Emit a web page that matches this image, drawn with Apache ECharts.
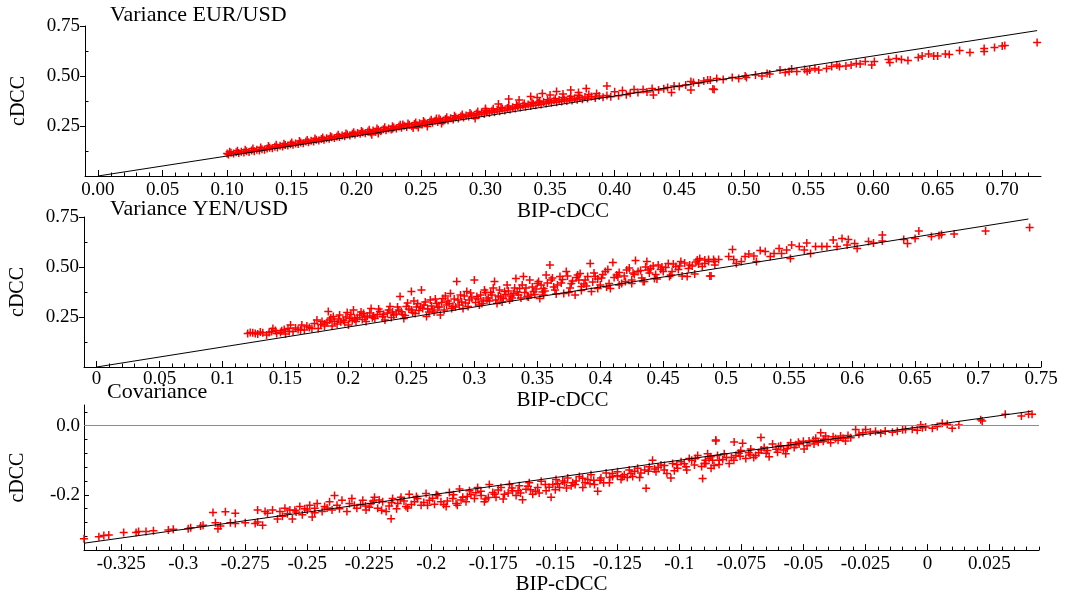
<!DOCTYPE html>
<html>
<head>
<meta charset="utf-8">
<script src="https://cdn.jsdelivr.net/npm/echarts@6/dist/echarts.min.js"></script>
<style>
html,body{margin:0;padding:0;background:#fff;}
#chart{width:1065px;height:596px;}
</style>
</head>
<body>
<div id="chart"></div>
<script>
// ---------- Panel titles / axis names ----------
const panelTitles = ['Variance EUR/USD', 'Variance YEN/USD', 'Covariance'];
const xName = 'BIP-cDCC';
const yName = 'cDCC';

// ---------- Tick values and labels ----------
const eurXTicks = [0, 0.05, 0.10, 0.15, 0.20, 0.25, 0.30, 0.35, 0.40, 0.45, 0.50, 0.55, 0.60, 0.65, 0.70];
const eurXLabels = ['0.00','0.05','0.10','0.15','0.20','0.25','0.30','0.35','0.40','0.45','0.50','0.55','0.60','0.65','0.70'];
const eurYTicks = [0.25, 0.50, 0.75];
const eurYLabels = ['0.25', '0.50', '0.75'];

const yenXTicks = [0, 0.05, 0.10, 0.15, 0.20, 0.25, 0.30, 0.35, 0.40, 0.45, 0.50, 0.55, 0.60, 0.65, 0.70, 0.75];
const yenXLabels = ['0','0.05','0.1','0.15','0.2','0.25','0.3','0.35','0.4','0.45','0.5','0.55','0.6','0.65','0.7','0.75'];
const yenYTicks = [0.25, 0.50, 0.75];
const yenYLabels = ['0.25', '0.50', '0.75'];

const covXTicks = [-0.325, -0.3, -0.275, -0.25, -0.225, -0.2, -0.175, -0.15, -0.125, -0.1, -0.075, -0.05, -0.025, 0, 0.025];
const covXLabels = ['-0.325','-0.3','-0.275','-0.25','-0.225','-0.2','-0.175','-0.15','-0.125','-0.1','-0.075','-0.05','-0.025','0','0.025'];
const covYTicks = [-0.2, 0];
const covYLabels = ['-0.2', '0.0'];

// ---------- 45-degree reference lines ----------
const eurDiag = [[0, 0], [0.727, 0.727]];
const yenDiag = [[0, 0], [0.740, 0.740]];
const covDiag = [[-0.340, -0.340], [0.042, 0.042]];
const covZero = 0;

// ---------- Scatter data [BIP-cDCC, cDCC] ----------
const eurPoints = [
[0.100,0.112],[0.101,0.108],[0.103,0.116],[0.105,0.113],[0.107,0.119],[0.109,0.115],[0.111,0.121],[0.113,0.117],[0.115,0.124],[0.117,0.120],
[0.119,0.127],[0.121,0.124],[0.123,0.131],[0.125,0.127],[0.127,0.134],[0.129,0.131],[0.131,0.137],[0.133,0.141],[0.135,0.139],[0.137,0.146],
[0.139,0.143],[0.141,0.151],[0.143,0.148],[0.145,0.155],[0.147,0.152],[0.149,0.159],[0.151,0.156],[0.153,0.163],[0.155,0.160],[0.157,0.168],
[0.159,0.164],[0.161,0.172],[0.163,0.169],[0.165,0.176],[0.167,0.172],[0.169,0.181],[0.171,0.177],[0.173,0.185],[0.175,0.181],[0.177,0.189],
[0.179,0.186],[0.181,0.194],[0.183,0.190],[0.185,0.198],[0.187,0.195],[0.189,0.203],[0.191,0.199],[0.193,0.207],[0.195,0.203],[0.197,0.211],
[0.199,0.207],[0.201,0.215],[0.203,0.211],[0.205,0.219],[0.207,0.214],[0.209,0.223],[0.211,0.218],[0.213,0.227],[0.215,0.221],[0.217,0.231],
[0.219,0.225],[0.221,0.234],[0.223,0.229],[0.225,0.238],[0.227,0.233],[0.229,0.243],[0.231,0.237],[0.233,0.247],[0.235,0.241],[0.237,0.251],
[0.239,0.245],[0.241,0.256],[0.243,0.249],[0.245,0.260],[0.247,0.254],[0.249,0.264],[0.251,0.258],[0.253,0.268],[0.255,0.262],[0.257,0.272],
[0.259,0.266],[0.261,0.276],[0.263,0.270],[0.265,0.281],[0.267,0.274],[0.269,0.285],[0.271,0.279],
[0.228,0.249],[0.236,0.258],[0.262,0.287],[0.255,0.248],[0.244,0.240],[0.217,0.212],
[0.102,0.121],[0.108,0.126],[0.114,0.131],[0.120,0.138],[0.126,0.143],[0.132,0.150],[0.138,0.156],[0.144,0.161],[0.150,0.168],[0.156,0.175],
[0.162,0.180],[0.168,0.187],[0.174,0.193],[0.180,0.199],[0.186,0.206],[0.192,0.212],[0.198,0.219],[0.204,0.225],[0.210,0.231],[0.216,0.238],
[0.222,0.244],[0.228,0.236],[0.234,0.256],[0.240,0.262],[0.246,0.268],[0.252,0.275],[0.258,0.281],[0.264,0.288],[0.270,0.294],[0.276,0.301],
[0.282,0.308],[0.288,0.315],[0.294,0.322],[0.300,0.329],[0.306,0.336],[0.312,0.343],[0.318,0.350],[0.324,0.356],[0.330,0.362],[0.336,0.369],
[0.342,0.375],[0.348,0.381],[0.354,0.388],[0.360,0.393],[0.366,0.399],[0.372,0.404],[0.380,0.408],[0.386,0.412],
[0.212,0.206],[0.248,0.243],[0.266,0.262],[0.292,0.288],
[0.273,0.289],[0.275,0.283],[0.277,0.294],[0.279,0.287],[0.281,0.299],[0.283,0.292],[0.285,0.303],[0.287,0.297],[0.289,0.308],[0.291,0.301],
[0.293,0.312],[0.295,0.306],[0.297,0.317],[0.299,0.310],[0.301,0.321],[0.303,0.315],[0.305,0.326],[0.307,0.319],[0.309,0.331],[0.311,0.324],
[0.313,0.336],[0.315,0.328],[0.317,0.340],[0.319,0.333],[0.321,0.344],[0.323,0.337],[0.325,0.349],[0.327,0.342],[0.329,0.353],[0.331,0.346],
[0.333,0.357],[0.335,0.350],[0.337,0.361],[0.339,0.354],[0.341,0.366],[0.343,0.358],[0.345,0.370],[0.347,0.362],[0.349,0.373],[0.351,0.366],
[0.353,0.377],[0.355,0.369],[0.357,0.380],[0.359,0.372],[0.361,0.383],[0.363,0.375],[0.365,0.386],[0.367,0.378],[0.369,0.389],[0.371,0.381],
[0.373,0.392],[0.375,0.384],[0.377,0.395],[0.379,0.387],[0.382,0.397],[0.385,0.390],[0.388,0.400],[0.391,0.394],
[0.318,0.385],[0.326,0.380],[0.335,0.397],[0.340,0.392],[0.344,0.413],[0.350,0.405],[0.355,0.422],[0.360,0.410],[0.366,0.430],[0.372,0.418],
[0.378,0.438],[0.394,0.450],[0.310,0.360],[0.300,0.338],
[0.394,0.402],[0.397,0.396],[0.400,0.421],[0.403,0.401],[0.406,0.427],[0.409,0.406],[0.412,0.414],[0.415,0.433],[0.418,0.418],[0.422,0.433],
[0.425,0.420],[0.429,0.438],[0.430,0.405],[0.434,0.430],[0.438,0.436],[0.441,0.443],[0.444,0.417],[0.446,0.450],[0.450,0.448],[0.455,0.455],
[0.459,0.472],[0.459,0.430],[0.461,0.467],[0.465,0.465],[0.469,0.475],[0.472,0.480],[0.474,0.480],[0.476,0.435],[0.477,0.433],[0.479,0.488],
[0.484,0.483],[0.491,0.493],[0.496,0.488],[0.501,0.500],[0.502,0.493],[0.509,0.505],[0.514,0.500],[0.518,0.513],[0.520,0.510],[0.528,0.530],
[0.532,0.517],[0.535,0.522],[0.537,0.535],[0.541,0.522],[0.547,0.533],[0.549,0.522],[0.551,0.530],[0.555,0.538],[0.558,0.530],[0.564,0.538],
[0.568,0.547],[0.572,0.555],[0.574,0.547],[0.579,0.550],[0.583,0.555],[0.587,0.563],[0.590,0.560],[0.594,0.572],[0.599,0.555],[0.601,0.572],
[0.612,0.583],[0.613,0.567],[0.618,0.588],[0.622,0.583],[0.627,0.577],[0.635,0.593],[0.638,0.600],[0.643,0.610],[0.647,0.600],[0.650,0.600],
[0.656,0.610],[0.659,0.608],[0.667,0.627],[0.675,0.617],[0.686,0.638],[0.686,0.622],[0.694,0.643],[0.700,0.650],[0.702,0.652],[0.727,0.667]
];

const yenPoints = [
[0.120,0.168],[0.124,0.171],[0.128,0.165],[0.132,0.171],[0.135,0.160],[0.139,0.177],[0.140,0.193],[0.143,0.168],[0.147,0.181],[0.150,0.165],
[0.152,0.193],[0.154,0.210],[0.156,0.177],[0.160,0.188],[0.163,0.210],[0.165,0.185],[0.169,0.198],[0.173,0.218],[0.175,0.235],[0.176,0.193],
[0.179,0.227],[0.181,0.205],[0.184,0.277],[0.185,0.235],[0.188,0.252],[0.189,0.227],[0.191,0.215],[0.193,0.260],[0.196,0.232],[0.199,0.272],
[0.200,0.210],[0.201,0.243],[0.204,0.285],[0.206,0.227],[0.209,0.260],
[0.122,0.173],[0.126,0.167],[0.130,0.175],[0.137,0.172],[0.142,0.182],[0.146,0.172],[0.149,0.188],[0.153,0.178],[0.158,0.195],[0.162,0.185],
[0.167,0.205],[0.171,0.192],[0.178,0.212],[0.183,0.222],[0.187,0.205],[0.192,0.240],[0.197,0.222],
[0.181,0.215],[0.186,0.245],[0.194,0.225],[0.198,0.250],[0.202,0.262],[0.205,0.240],[0.210,0.275],[0.213,0.250],[0.217,0.270],[0.220,0.255],
[0.224,0.290],[0.228,0.262],[0.232,0.285],[0.235,0.275],[0.239,0.300],[0.243,0.262],[0.247,0.320],[0.250,0.285],[0.252,0.330],[0.257,0.300],
[0.261,0.325],[0.264,0.275],[0.269,0.340],[0.272,0.300],[0.277,0.355],[0.280,0.318],[0.285,0.300],[0.289,0.360],[0.293,0.320],[0.297,0.370],
[0.303,0.340],[0.306,0.318],[0.309,0.372],[0.312,0.330],[0.315,0.395],[0.321,0.350],[0.324,0.378],[0.329,0.355],[0.334,0.375],[0.337,0.345],
[0.341,0.395],[0.345,0.360],[0.349,0.390],[0.353,0.410],[0.356,0.380],[0.363,0.400],[0.369,0.420],[0.376,0.395],[0.383,0.435],[0.389,0.405],
[0.394,0.425],[0.401,0.445],[0.407,0.418],[0.414,0.450],[0.420,0.428],[0.426,0.470],[0.433,0.445],[0.438,0.485],[0.444,0.462],[0.449,0.500],
[0.457,0.478],[0.463,0.505],[0.470,0.492],[0.478,0.515],
[0.212,0.268],[0.214,0.227],[0.218,0.293],[0.221,0.243],[0.225,0.277],[0.229,0.235],[0.233,0.302],[0.236,0.260],
[0.240,0.285],[0.241,0.352],[0.244,0.243],[0.246,0.302],[0.250,0.377],[0.253,0.268],[0.255,0.318],[0.258,0.385],[0.259,0.293],[0.262,0.252],
[0.265,0.335],[0.267,0.285],[0.270,0.318],[0.273,0.260],[0.275,0.343],
[0.203,0.232],[0.207,0.248],[0.211,0.238],[0.215,0.255],[0.219,0.246],[0.223,0.262],[0.227,0.251],[0.231,0.270],[0.234,0.247],[0.238,0.265],
[0.242,0.276],[0.245,0.258],[0.248,0.290],[0.251,0.272],[0.254,0.300],[0.256,0.282],[0.260,0.310],[0.263,0.290],[0.266,0.305],[0.268,0.275],
[0.271,0.298],[0.274,0.322],[0.276,0.285],[0.279,0.330],[0.282,0.292],[0.284,0.340],[0.288,0.310],[0.290,0.325],[0.292,0.355],[0.295,0.302],
[0.298,0.345],[0.301,0.322],[0.305,0.360],[0.307,0.330],[0.311,0.345],[0.313,0.372],[0.317,0.335],[0.319,0.355],[0.322,0.325],[0.325,0.362],
[0.327,0.380],[0.330,0.345],[0.332,0.395],[0.335,0.360],[0.338,0.410],[0.340,0.372],[0.343,0.350],[0.346,0.400],[0.348,0.362],[0.351,0.428],
[0.354,0.375],
[0.278,0.310],[0.281,0.368],[0.283,0.302],[0.286,0.427],[0.287,0.335],[0.291,0.293],[0.294,0.377],[0.296,0.335],[0.300,0.435],[0.302,0.352],
[0.304,0.310],[0.308,0.385],[0.310,0.335],[0.314,0.360],[0.316,0.427],[0.318,0.318],[0.320,0.385],[0.323,0.343],[0.326,0.410],[0.328,0.335],
[0.331,0.368],[0.333,0.443],[0.336,0.393],[0.339,0.452],[0.342,0.352],[0.344,0.435],[0.347,0.377],[0.350,0.418],[0.352,0.343],[0.355,0.393],
[0.357,0.460],[0.360,0.510],[0.361,0.435],[0.364,0.385],[0.368,0.452],[0.371,0.368],[0.373,0.477],[0.377,0.418],[0.380,0.360],[0.382,0.460],
[0.385,0.402],[0.388,0.435],[0.392,0.518],[0.393,0.377],
[0.358,0.420],[0.362,0.445],[0.366,0.410],[0.370,0.438],[0.374,0.455],[0.378,0.430],[0.381,0.448],[0.384,0.468],[0.387,0.415],[0.390,0.452],
[0.395,0.470],[0.398,0.440],[0.402,0.462],[0.406,0.488],[0.411,0.448],[0.415,0.472],[0.419,0.455],[0.423,0.495],[0.427,0.462],[0.432,0.482],
[0.436,0.500],[0.439,0.470],[0.442,0.505],[0.448,0.488],[0.452,0.497],[0.458,0.515],[0.462,0.488],[0.467,0.520],[0.473,0.505],[0.476,0.525],
[0.396,0.452],[0.400,0.410],[0.404,0.477],[0.408,0.393],[0.410,0.522],[0.413,0.460],[0.417,0.418],[0.421,0.485],[0.425,0.435],[0.428,0.533],
[0.430,0.477],[0.434,0.427],[0.437,0.528],[0.440,0.493],[0.443,0.443],[0.446,0.510],
[0.450,0.477],[0.454,0.518],[0.456,0.460],[0.460,0.502],[0.464,0.527],[0.469,0.452],[0.471,0.510],[0.477,0.535],[0.479,0.543],[0.483,0.518],
[0.486,0.538],[0.487,0.455],[0.491,0.527],[0.494,0.538],
[0.355,0.360],[0.365,0.365],[0.375,0.372],[0.385,0.382],[0.398,0.392],[0.405,0.400],[0.415,0.410],[0.425,0.418],[0.435,0.428],[0.445,0.440],
[0.455,0.452],[0.465,0.455],[0.475,0.465],
[0.481,0.502],[0.483,0.535],[0.486,0.527],[0.488,0.455],[0.490,0.538],[0.491,0.510],
[0.502,0.552],[0.505,0.588],[0.506,0.538],[0.508,0.518],[0.512,0.527],
[0.515,0.552],[0.518,0.565],[0.522,0.555],[0.524,0.527],[0.527,0.582],[0.531,0.577],[0.535,0.552],[0.538,0.568],[0.542,0.593],[0.544,0.568],
[0.548,0.585],[0.551,0.543],[0.552,0.610],
[0.558,0.602],[0.562,0.585],[0.564,0.620],[0.567,0.568],[0.571,0.602],[0.576,0.602],[0.580,0.603],[0.585,0.635],[0.588,0.603],[0.592,0.643],
[0.596,0.610],[0.597,0.638],
[0.602,0.618],[0.604,0.593],[0.613,0.627],[0.617,0.620],[0.624,0.660],[0.624,0.630],
[0.641,0.638],[0.644,0.618],[0.650,0.642],[0.653,0.680],
[0.663,0.653],[0.669,0.658],[0.671,0.662],[0.681,0.665],[0.706,0.680],[0.741,0.697]
];

const covPoints = [
[-0.340,-0.327],[-0.334,-0.321],[-0.332,-0.318],[-0.330,-0.316],[-0.324,-0.309],[-0.319,-0.309],[-0.318,-0.306],[-0.315,-0.306],[-0.312,-0.304],
[-0.306,-0.302],[-0.304,-0.300],[-0.298,-0.298],[-0.297,-0.295],[-0.293,-0.290],[-0.292,-0.288],[-0.288,-0.251],[-0.287,-0.281],[-0.286,-0.298],
[-0.285,-0.290],[-0.283,-0.249],[-0.281,-0.281],[-0.279,-0.253],[-0.279,-0.283],[-0.275,-0.281],[-0.271,-0.283],[-0.270,-0.244],[-0.270,-0.279],
[-0.268,-0.288],[-0.267,-0.248],[-0.266,-0.253],[-0.264,-0.244],[-0.262,-0.270],[-0.261,-0.248],[-0.260,-0.262],[-0.259,-0.239],[-0.257,-0.244],
[-0.256,-0.270],[-0.255,-0.245],[-0.253,-0.234],[-0.252,-0.258],[-0.250,-0.244],[-0.249,-0.230],[-0.248,-0.264],[-0.247,-0.239],[-0.246,-0.225],
[-0.244,-0.248],[-0.243,-0.234],[-0.241,-0.220],[-0.240,-0.244],[-0.239,-0.202],[-0.238,-0.230],[-0.236,-0.216],[-0.234,-0.248],[-0.233,-0.225],
[-0.232,-0.211],[-0.230,-0.239],
[-0.2580,-0.255],[-0.2545,-0.250],[-0.2510,-0.240],[-0.2470,-0.252],[-0.2420,-0.238],[-0.2370,-0.240],[-0.2310,-0.230],
[-0.2276,-0.216],[-0.2263,-0.244],[-0.2243,-0.225],[-0.2229,-0.207],[-0.2216,-0.239],[-0.2196,-0.220],[-0.2182,-0.248],[-0.2162,-0.269],[-0.2156,-0.211],
[-0.2135,-0.225],[-0.2122,-0.207],[-0.2102,-0.234],[-0.2089,-0.198],[-0.2068,-0.220],[-0.2055,-0.211],[-0.2041,-0.230],[-0.2021,-0.196],[-0.2007,-0.216],
[-0.1987,-0.227],[-0.1974,-0.202],[-0.1961,-0.220],[-0.1940,-0.234],[-0.1927,-0.193],[-0.1913,-0.211],[-0.1900,-0.225],[-0.1886,-0.183],
[-0.1873,-0.207],[-0.1860,-0.220],[-0.1846,-0.188],[-0.1826,-0.211],[-0.1813,-0.179],[-0.1799,-0.202],[-0.1786,-0.220],[-0.1766,-0.170],[-0.1752,-0.193],
[-0.1739,-0.207],[-0.1719,-0.179],[-0.1705,-0.198],[-0.1685,-0.170],[-0.1672,-0.188],[-0.1658,-0.202],[-0.1645,-0.174],[-0.1632,-0.214],[-0.1618,-0.184],
[-0.1605,-0.165],[-0.1591,-0.198],[-0.1571,-0.179],[-0.1557,-0.161],
[-0.1537,-0.188],[-0.1517,-0.207],[-0.1510,-0.170],[-0.1497,-0.156],[-0.1483,-0.179],[-0.1463,-0.165],[-0.1450,-0.151],[-0.1436,-0.174],[-0.1416,-0.160],
[-0.1403,-0.147],[-0.1389,-0.179],[-0.1369,-0.156],[-0.1356,-0.142],[-0.1342,-0.170],[-0.1329,-0.190],[-0.1316,-0.151],[-0.1295,-0.137],[-0.1282,-0.165],
[-0.1269,-0.147],[-0.1249,-0.133],[-0.1235,-0.156],[-0.1222,-0.142],
[-0.1202,-0.128],[-0.1188,-0.147],[-0.1168,-0.123],[-0.1155,-0.137],[-0.1134,-0.181],[-0.1121,-0.119],[-0.1108,-0.100],[-0.1094,-0.133],[-0.1074,-0.114],
[-0.1061,-0.128],[-0.1034,-0.151],[-0.1027,-0.109],
[-0.2285,-0.228],[-0.2250,-0.236],[-0.2210,-0.215],[-0.2170,-0.232],[-0.2140,-0.240],[-0.2110,-0.218],[-0.2080,-0.228],[-0.2030,-0.222],[-0.1995,-0.210],
[-0.1950,-0.228],[-0.1910,-0.200],[-0.1880,-0.215],[-0.1840,-0.200],[-0.1800,-0.190],[-0.1770,-0.208],[-0.1730,-0.186],[-0.1690,-0.195],[-0.1650,-0.188],
[-0.1610,-0.175],[-0.1580,-0.190],[-0.1540,-0.170],[-0.1500,-0.185],[-0.1470,-0.160],[-0.1430,-0.165],[-0.1390,-0.152],[-0.1360,-0.168],[-0.1320,-0.158],
[-0.1280,-0.150],[-0.1250,-0.145],[-0.1210,-0.150],[-0.1180,-0.132],[-0.1140,-0.128],[-0.1100,-0.125],[-0.1060,-0.115],[-0.1020,-0.130],[-0.0980,-0.110],
[-0.0950,-0.100],[-0.0910,-0.118],[-0.0880,-0.095],[-0.0840,-0.112],[-0.0810,-0.092],[-0.0780,-0.100],[-0.0760,-0.080],[-0.0720,-0.078],[-0.0700,-0.092],
[-0.0670,-0.070],[-0.0650,-0.080],[-0.0610,-0.068],[-0.0580,-0.070],[-0.0560,-0.058],[-0.0530,-0.055],[-0.0500,-0.045],[-0.0460,-0.042],[-0.0440,-0.048],
[-0.0400,-0.040],[-0.0360,-0.042],[-0.0320,-0.028],[-0.0260,-0.020],[-0.0230,-0.018],[-0.0170,-0.015],[-0.0100,-0.012],[-0.0020,-0.006],[0.0040,-0.002],
[0.0080,0.004],
[-0.2265,-0.232],[-0.2235,-0.218],[-0.2200,-0.245],[-0.2160,-0.222],[-0.2125,-0.214],[-0.2095,-0.238],[-0.2060,-0.205],[-0.2015,-0.230],[-0.1980,-0.200],
[-0.1935,-0.218],[-0.1895,-0.230],[-0.1855,-0.205],[-0.1820,-0.194],[-0.1780,-0.212],[-0.1745,-0.198],[-0.1710,-0.212],[-0.1675,-0.180],[-0.1640,-0.195],
[-0.1600,-0.185],[-0.1565,-0.195],[-0.1525,-0.178],[-0.1490,-0.168],[-0.1455,-0.180],[-0.1420,-0.170],[-0.1380,-0.165],[-0.1345,-0.158],[-0.1305,-0.165],
[-0.1270,-0.138],[-0.1230,-0.148],[-0.1195,-0.138],[-0.1160,-0.150],[-0.1125,-0.132],[-0.1085,-0.120],[-0.1050,-0.138],[-0.1010,-0.112],[-0.0970,-0.128],
[-0.0935,-0.095],[-0.0895,-0.100],[-0.0860,-0.115],[-0.0825,-0.098],[-0.0790,-0.092],[-0.0755,-0.088],[-0.0715,-0.085],[-0.0680,-0.078],[-0.0645,-0.072],
[-0.0600,-0.060],[-0.0565,-0.066],[-0.0520,-0.048],[-0.0485,-0.058],[-0.0450,-0.036],[-0.0420,-0.045],[-0.0380,-0.032],[-0.0340,-0.036],
[-0.1007,-0.123],[-0.0993,-0.104],[-0.0973,-0.119],[-0.0960,-0.095],[-0.0939,-0.114],[-0.0926,-0.086],[-0.0906,-0.153],[-0.0899,-0.109],[-0.0886,-0.081],
[-0.0872,-0.123],[-0.0866,-0.100],[-0.0853,-0.041],[-0.0846,-0.086],
[-0.0893,-0.109],[-0.0873,-0.090],[-0.0853,-0.044],[-0.0839,-0.100],[-0.0819,-0.081],[-0.0799,-0.109],[-0.0779,-0.047],[-0.0772,-0.086],[-0.0752,-0.072],
[-0.0745,-0.051],[-0.0732,-0.095],[-0.0712,-0.067],[-0.0692,-0.086],[-0.0671,-0.034],[-0.0658,-0.063],[-0.0638,-0.090],[-0.0624,-0.053],[-0.0604,-0.077],
[-0.0591,-0.058],[-0.0571,-0.081],[-0.0551,-0.049],[-0.0537,-0.063],[-0.0517,-0.053],[-0.0497,-0.067],[-0.0477,-0.044],[-0.0457,-0.053],[-0.0430,-0.020],
[-0.0417,-0.039],[-0.0410,-0.030],[-0.0390,-0.049],[-0.0370,-0.037],[-0.0350,-0.030],[-0.0330,-0.044],[-0.0309,-0.035],[-0.0289,-0.011],[-0.0276,-0.025],
[-0.0249,-0.011],[-0.0209,-0.016],[-0.0188,-0.022],[-0.0141,-0.019],[-0.0121,-0.016],[-0.0088,-0.011],[-0.0061,-0.010],[-0.0041,-0.013],[-0.0027,0.002],
[-0.0007,-0.004],[0.0020,-0.007],[0.0060,0.007],[0.0100,-0.007],[0.0127,0.002],[0.0215,0.017],[0.0221,0.014],[0.0314,0.033],[0.0379,0.028],
[0.0408,0.033],[0.0422,0.033]
];

// ---------- rendering ----------
const FONT = '"Liberation Serif", "Times New Roman", serif';
const PLUS = 'path://M3.25,0H4.75V3.25H8V4.75H4.75V8H3.25V4.75H0V3.25H3.25Z';

function steps(a, b, s) {
  const out = [];
  const n = Math.round((b - a) / s);
  for (let i = 0; i <= n; i++) out.push(+(a + i * s).toFixed(6));
  return out;
}
function fmt(ticks, labels) {
  return function (v) {
    for (let i = 0; i < ticks.length; i++) if (Math.abs(ticks[i] - v) < 1e-9) return labels[i];
    return '';
  };
}
const grids = [
  {left: 85, top: 26, width: 956, height: 150},
  {left: 84, top: 217, width: 957, height: 150},
  {left: 83, top: 405, width: 956, height: 149}
];
const panels = [
  {xMin: -0.01, xMax: 0.73, yMin: 0, yMax: 0.75, xT: eurXTicks, xL: eurXLabels, yT: eurYTicks, yL: eurYLabels,
   xMinor: steps(0.01, 0.72, 0.01), yMinor: [0.125, 0.375, 0.625], xGap: 21, xMargin: 5, yTickOut: true},
  {xMin: -0.01, xMax: 0.75, yMin: 0, yMax: 0.75, xT: yenXTicks, xL: yenXLabels, yT: yenYTicks, yL: yenYLabels,
   xMinor: steps(0.01, 0.74, 0.01), yMinor: [0.125, 0.375, 0.625], xGap: 21, xMargin: 3, yTickOut: true},
  {xMin: -0.34, xMax: 0.045, yMin: -0.36, yMax: 0.06, xT: covXTicks, xL: covXLabels, yT: covYTicks, yL: covYLabels,
   xMinor: steps(-0.335, 0.045, 0.005), yMinor: steps(-0.36, 0.04, 0.04), xGap: 18, xMargin: 4, yTickOut: false}
];

const xAxes = [], yAxes = [];
panels.forEach(function (p, g) {
  xAxes.push({
    type: 'value', gridIndex: g, min: p.xMin, max: p.xMax, position: 'bottom',
    axisLine: {show: true, onZero: false, lineStyle: {color: '#000', width: 1}},
    axisTick: {show: true, inside: true, length: 6, customValues: p.xT, lineStyle: {color: '#000'}},
    axisLabel: {show: true, customValues: p.xT, formatter: fmt(p.xT, p.xL), margin: p.xMargin,
      fontFamily: FONT, fontSize: 19, color: '#000'},
    splitLine: {show: false},
    name: xName, nameLocation: 'middle', nameGap: p.xGap,
    nameTextStyle: {fontFamily: FONT, fontSize: 21, color: '#000'}
  });
  xAxes.push({
    type: 'value', gridIndex: g, min: p.xMin, max: p.xMax, position: 'bottom',
    axisLine: {show: false, onZero: false},
    axisTick: {show: true, inside: true, length: 3.5, customValues: p.xMinor, lineStyle: {color: '#000'}},
    axisLabel: {show: false}, splitLine: {show: false}
  });
  yAxes.push({
    type: 'value', gridIndex: g, min: p.yMin, max: p.yMax, position: 'left',
    axisLine: {show: true, onZero: false, lineStyle: {color: '#000', width: 1}},
    axisTick: {show: true, inside: !p.yTickOut, length: 5, customValues: p.yT, lineStyle: {color: '#000'}},
    axisLabel: {show: true, customValues: p.yT, formatter: fmt(p.yT, p.yL), margin: p.yTickOut ? 5 : 4,
      fontFamily: FONT, fontSize: 19, color: '#000'},
    splitLine: {show: false},
    name: yName, nameLocation: 'middle', nameGap: 56,
    nameTextStyle: {fontFamily: FONT, fontSize: 20, color: '#000'}
  });
  yAxes.push({
    type: 'value', gridIndex: g, min: p.yMin, max: p.yMax, position: 'left',
    axisLine: {show: false, onZero: false},
    axisTick: {show: true, inside: true, length: 3.5, customValues: p.yMinor, lineStyle: {color: '#000'}},
    axisLabel: {show: false}, splitLine: {show: false}
  });
});

function scatter(data, g) {
  return {
    type: 'scatter', xAxisIndex: 2 * g, yAxisIndex: 2 * g, data: data,
    symbol: PLUS, symbolSize: 8, itemStyle: {color: '#ff0000', opacity: 1},
    silent: true, animation: false, z: 3
  };
}
function diag(data, g) {
  return {
    type: 'line', xAxisIndex: 2 * g, yAxisIndex: 2 * g, data: data,
    symbol: 'none', lineStyle: {color: '#000', width: 1}, silent: true, animation: false, z: 4
  };
}

const series = [
  scatter(eurPoints, 0), diag(eurDiag, 0),
  scatter(yenPoints, 1), diag(yenDiag, 1),
  Object.assign(scatter(covPoints, 2), {
    markLine: {silent: true, symbol: 'none', label: {show: false}, animation: false,
      lineStyle: {color: '#8c8c8c', width: 1, type: 'solid'}, data: [{yAxis: covZero}]}
  }),
  diag(covDiag, 2)
];

const titleTops = [4, 198, 381];
const titleLefts = [110, 110, 107];
const option = {
  backgroundColor: '#ffffff',
  animation: false,
  title: panelTitles.map(function (t, i) {
    return {text: t, left: titleLefts[i], top: titleTops[i], padding: 0,
      textStyle: {fontFamily: FONT, fontSize: 22, fontWeight: 'normal', color: '#000'}};
  }),
  grid: grids,
  xAxis: xAxes,
  yAxis: yAxes,
  series: series
};
const chart = echarts.init(document.getElementById('chart'), null, {renderer: 'canvas'});
chart.setOption(option);
</script>
</body>
</html>
